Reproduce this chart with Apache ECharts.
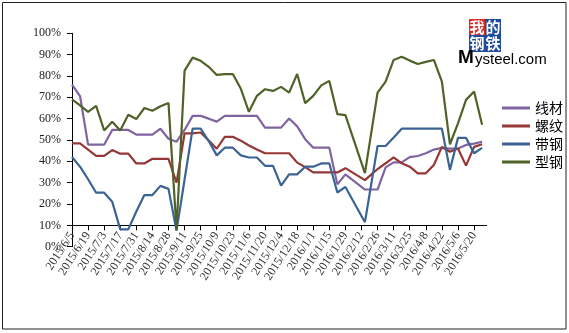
<!DOCTYPE html>
<html>
<head>
<meta charset="utf-8">
<script src="https://cdn.jsdelivr.net/npm/echarts@6/dist/echarts.min.js"></script>
<style>
  html, body { margin: 0; padding: 0; background: #fff; }
  #chart { width: 569px; height: 333px; }
</style>
</head>
<body>
<div id="chart"></div>
<script>
// Survey dates (weekly, with the Spring Festival week shifted to 2/15)
const dates = [
  '2015/6/5', '2015/6/12', '2015/6/19', '2015/6/26', '2015/7/3', '2015/7/10', '2015/7/17', '2015/7/24',
  '2015/7/31', '2015/8/7', '2015/8/14', '2015/8/21', '2015/8/28', '2015/9/4', '2015/9/11', '2015/9/18',
  '2015/9/25', '2015/10/2', '2015/10/9', '2015/10/16', '2015/10/23', '2015/10/30', '2015/11/6', '2015/11/13',
  '2015/11/20', '2015/11/27', '2015/12/4', '2015/12/11', '2015/12/18', '2015/12/25', '2016/1/1', '2016/1/8',
  '2016/1/15', '2016/1/22', '2016/1/29', '2016/2/15', '2016/2/26', '2016/3/4', '2016/3/11', '2016/3/18',
  '2016/3/25', '2016/4/1', '2016/4/8', '2016/4/15', '2016/4/22', '2016/4/29', '2016/5/6', '2016/5/13',
  '2016/5/20', '2016/5/27'
];

// Axis tick labels (every two weeks)
const tickLabels = [
  '2015/6/5', '2015/6/19', '2015/7/3', '2015/7/17', '2015/7/31', '2015/8/14', '2015/8/28', '2015/9/11',
  '2015/9/25', '2015/10/9', '2015/10/23', '2015/11/6', '2015/11/20', '2015/12/4', '2015/12/18', '2016/1/1',
  '2016/1/15', '2016/1/29', '2016/2/12', '2016/2/26', '2016/3/11', '2016/3/25', '2016/4/8', '2016/4/22',
  '2016/5/6', '2016/5/20'
];
const axisEndDate = '2016/5/31';

const seriesNames = ['线材', '螺纹', '带钢', '型钢'];

// Operating rate, %
const wire = [
  76.0, 70.6, 47.8, 47.8, 47.8, 54.7, 54.7, 54.7, 52.5, 52.5, 52.5, 55.3, 50.6, 49.2, 54.7, 61.3,
  61.3, 60.0, 58.6, 61.3, 61.3, 61.3, 61.3, 61.3, 55.8, 55.8, 55.8, 60.1, 56.4, 50.4, 46.4, 46.4,
  46.4, 29.2, 33.9, 26.8, 26.8, 37.2, 39.5, 39.5, 42.0, 42.5, 43.8, 45.5, 46.3, 46.0, 46.0, 47.7,
  48.3, 49.2
];
const rebar = [
  48.4, 48.4, 45.5, 42.6, 42.6, 45.3, 43.6, 43.6, 39.0, 39.0, 41.2, 41.2, 41.2, 30.0, 53.1, 53.1,
  53.5, 49.8, 45.9, 51.5, 51.5, 49.7, 47.4, 45.5, 43.8, 43.8, 43.8, 43.8, 39.4, 37.3, 34.8, 34.8,
  34.8, 34.8, 36.8, 31.2, 36.4, 39.1, 41.9, 39.1, 37.5, 34.4, 34.4, 38.3, 46.8, 44.5, 46.0, 38.0,
  46.8, 48.0
];
const strip = [
  42.0, 37.5, 31.6, 25.3, 25.3, 21.1, 8.1, 8.1, 16.5, 24.2, 24.2, 28.5, 27.1, 7.5, 31.5, 55.3,
  55.3, 49.5, 42.8, 46.4, 46.4, 42.8, 41.8, 41.8, 37.9, 37.9, 28.6, 33.9, 33.9, 37.5, 37.5, 39.0,
  39.0, 25.4, 28.0, 11.5, 47.2, 47.2, 51.2, 55.3, 55.3, 55.3, 55.3, 55.3, 55.3, 36.0, 51.0, 51.0,
  43.8, 46.3
];
const section = [
  69.0, 66.2, 63.2, 66.0, 54.5, 58.6, 54.5, 61.8, 59.8, 65.0, 63.7, 65.8, 67.3, 8.0, 82.5, 88.6,
  87.1, 84.3, 80.5, 80.9, 80.9, 74.0, 63.2, 70.7, 73.8, 73.0, 74.9, 72.2, 80.9, 67.3, 70.7, 75.6,
  77.7, 62.1, 61.7, 34.5, 72.2, 77.4, 87.5, 89.0, 87.2, 85.6, 86.6, 87.5, 77.4, 48.0, 57.8, 68.8,
  72.7, 57.1
];

const seriesColors = ['#8064A2', '#953735', '#3B6494', '#4F6228'];

// Date axis: positions are days since the first survey date
const DAY_MS = 86400000;
function dayNumber(s) {
  const p = s.split('/').map(Number);
  return Date.UTC(p[0], p[1] - 1, p[2]) / DAY_MS;
}
const day0 = dayNumber(dates[0]);
const toDay = s => dayNumber(s) - day0;
const xDays = dates.map(toDay);
const tickDays = tickLabels.map(toDay);
const labelByDay = {};
tickDays.forEach((d, i) => { labelByDay[d] = tickLabels[i]; });

const plotTop = 33.3, plotHeight = 213.4;

function pairs(values) {
  return values.map((v, i) => [xDays[i], v]);
}

const chart = echarts.init(document.getElementById('chart'), null, { renderer: 'canvas' });

chart.setOption({
  animation: false,
  backgroundColor: '#fff',
  grid: { left: 72, top: plotTop, width: 414.7, height: plotHeight, containLabel: false },
  xAxis: {
    type: 'value',
    min: 0,
    max: toDay(axisEndDate),
    // horizontal axis crosses the value axis at 10%
    offset: -plotHeight / 10,
    splitLine: { show: false },
    axisLine: { show: true, lineStyle: { color: '#000', width: 1 } },
    axisTick: { show: true, customValues: tickDays, length: 5, inside: false, lineStyle: { color: '#000' } },
    axisLabel: {
      customValues: tickDays,
      formatter: v => labelByDay[v] || '',
      rotate: 57,
      margin: 8,
      color: '#333',
      fontFamily: 'Liberation Serif',
      fontSize: 12
    }
  },
  yAxis: {
    type: 'value',
    min: 0,
    max: 100,
    interval: 10,
    splitLine: { show: false },
    axisLine: { show: true, lineStyle: { color: '#000', width: 1 } },
    axisTick: { show: true, length: 5, inside: false, lineStyle: { color: '#000' } },
    axisLabel: {
      formatter: '{value}%',
      margin: 11,
      color: '#222',
      fontFamily: 'Liberation Serif',
      fontSize: 12
    }
  },
  legend: {
    orient: 'vertical',
    left: 497,
    top: 96,
    icon: 'rect',
    itemWidth: 28,
    itemHeight: 3,
    itemGap: 4,
    data: seriesNames,
    textStyle: { color: '#000', fontSize: 14, fontFamily: 'Noto Sans CJK SC' }
  },
  series: [wire, rebar, strip, section].map((vals, k) => ({
    name: seriesNames[k],
    type: 'line',
    data: pairs(vals),
    showSymbol: false,
    symbol: 'none',
    smooth: false,
    color: seriesColors[k],
    lineStyle: { color: seriesColors[k], width: 2.2 }
  })),
  graphic: [
    // chart frame
    { type: 'rect', shape: { x: 2.5, y: 2.5, width: 563.5, height: 326.5 }, style: { fill: 'none', stroke: '#222', lineWidth: 1 }, silent: true },
    // Mysteel logo
    { type: 'rect', shape: { x: 469, y: 19, width: 16, height: 16 }, style: { fill: '#E02A20' } },
    { type: 'rect', shape: { x: 485, y: 19, width: 16, height: 16 }, style: { fill: '#1F4B9C' } },
    { type: 'rect', shape: { x: 469, y: 35, width: 16, height: 17 }, style: { fill: '#1F4B9C' } },
    { type: 'rect', shape: { x: 485, y: 35, width: 16, height: 17 }, style: { fill: '#1F4B9C' } },
    { type: 'text', style: { x: 477, y: 27, text: '我', fill: '#fff', font: 'bold 15px "Noto Sans CJK SC"', textAlign: 'center', textVerticalAlign: 'middle' } },
    { type: 'text', style: { x: 493, y: 27, text: '的', fill: '#fff', font: 'bold 15px "Noto Sans CJK SC"', textAlign: 'center', textVerticalAlign: 'middle' } },
    { type: 'text', style: { x: 477, y: 43.5, text: '钢', fill: '#fff', font: 'bold 15px "Noto Sans CJK SC"', textAlign: 'center', textVerticalAlign: 'middle' } },
    { type: 'text', style: { x: 493, y: 43.5, text: '铁', fill: '#fff', font: 'bold 15px "Noto Sans CJK SC"', textAlign: 'center', textVerticalAlign: 'middle' } },
    { type: 'text', style: { x: 458, y: 67, text: 'M', fill: '#000', font: 'bold 19px "Liberation Sans"', textAlign: 'left', textVerticalAlign: 'bottom' } },
    { type: 'text', style: { x: 475, y: 67, text: 'ysteel.com', fill: '#000', font: '15px "Liberation Sans"', textAlign: 'left', textVerticalAlign: 'bottom' } }
  ]
});
</script>
</body>
</html>
